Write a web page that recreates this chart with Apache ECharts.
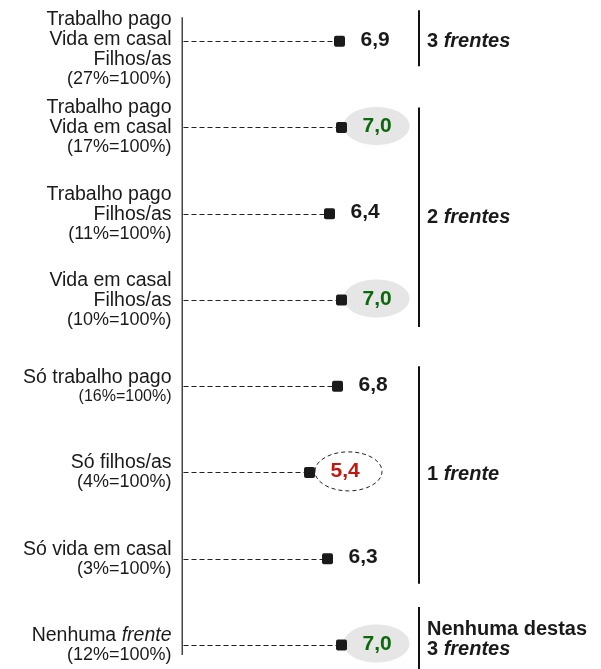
<!DOCTYPE html>
<html><head><meta charset="utf-8">
<script src="https://cdn.jsdelivr.net/npm/echarts@6/dist/echarts.min.js"></script>
<style>html,body{margin:0;padding:0;background:#fff}#c{width:601px;height:669px}</style>
</head><body><div id="c"></div>
<script>
// ---- data ----
const categories = [
  'Trabalho pago\nVida em casal\nFilhos/as',
  'Trabalho pago\nVida em casal',
  'Trabalho pago\nFilhos/as',
  'Vida em casal\nFilhos/as',
  'Só trabalho pago',
  'Só filhos/as',
  'Só vida em casal',
  'Nenhuma frente'
];
const shares = ['27%', '17%', '11%', '10%', '16%', '4%', '3%', '12%'];
const values = [6.9, 7.0, 6.4, 7.0, 6.8, 5.4, 6.3, 7.0];
const highlight = ['', 'high', '', 'high', '', 'low', '', 'high'];
const groupLabels = ['3 {i|frentes}', '2 {i|frentes}', '1 {i|frente}', 'Nenhuma destas\n3 {i|frentes}'];
const groupRanges = [[0, 0], [1, 3], [4, 6], [7, 7]];

// ---- layout / style ----
const FONT = '"Liberation Sans", Arial, Helvetica, sans-serif';
const groupPads = [[31, 25], [20, 27], [20, 25], [38, 30]];
const groupTextShift = [3, 0, 0, 2];
const smallShareRows = [4];
const TXT = '#1a1a1a';

const chart = echarts.init(document.getElementById('c'), null, {renderer: 'canvas'});

function fmt(v) { return v.toFixed(1).replace('.', ','); }

chart.setOption({
  animation: false,
  backgroundColor: '#fff',
  grid: {left: 181.5, top: -2, width: 220, height: 690, containLabel: false, outerBoundsMode: 'none'},
  xAxis: {type: 'value', min: -1, max: 10, show: false},
  yAxis: {
    type: 'category', inverse: true,
    data: categories.map((c, i) => i === 0 ? {value: c, textStyle: {padding: [16, 0, 0, 0]}} : c),
    axisLine: {show: false}, axisTick: {show: false}, splitLine: {show: false},
    axisLabel: {
      margin: 10, fontSize: 19.5, lineHeight: 20, color: TXT, fontFamily: FONT,
      formatter: (val, idx) => val.replace(/\bfrente\b/, '{i|frente}') +
        '\n{' + (smallShareRows.indexOf(idx) >= 0 ? 'ps' : 'p') + '|(' + shares[idx] + '=100%)}',
      rich: {
        i: {fontStyle: 'italic', fontSize: 19.5, lineHeight: 20, color: TXT, fontFamily: FONT},
        p: {fontSize: 18, lineHeight: 19, color: TXT, fontFamily: FONT},
        ps: {fontSize: 16, lineHeight: 17, color: TXT, fontFamily: FONT}
      }
    }
  },
  series: [{
    type: 'custom',
    coordinateSystem: 'cartesian2d',
    encode: {x: 0, y: 1},
    data: values.map((v, i) => [v, i]),
    clip: false,
    renderItem: (params, api) => {
      const v = api.value(0), i = api.value(1);
      const p0 = api.coord([-1, i]);
      const p = api.coord([v, i]);
      const h = highlight[i];
      const y = Math.round(p[1]) + 0.5;
      const children = [];
      children.push({type: 'line', shape: {x1: p0[0] + 2, y1: y, x2: p[0] - 5, y2: y},
        style: {stroke: '#222', lineWidth: 1.1, lineDash: [5, 3]}});
      if (h === 'high') {
        children.push({type: 'ellipse', shape: {cx: p[0] + 35, cy: p[1] - 1.5, rx: 33, ry: 19},
          style: {fill: '#e5e6e5'}});
      } else if (h === 'low') {
        children.push({type: 'ellipse', shape: {cx: p[0] + 39, cy: p[1] - 1, rx: 33.5, ry: 19.5},
          style: {fill: '#fff', stroke: '#222', lineWidth: 1, lineDash: [4, 3]}});
      }
      children.push({type: 'rect', shape: {x: p[0] - 5.5, y: p[1] - 5.5, width: 11, height: 11, r: 2},
        style: {fill: '#1a1a1a'}});
      const col = h === 'high' ? '#0b680b' : (h === 'low' ? '#c0170f' : TXT);
      children.push({type: 'text', x: p[0] + 21, y: p[1] - 1,
        style: {text: fmt(v), fill: col, font: 'bold 21px ' + FONT, align: 'left', verticalAlign: 'middle'}});
      return {type: 'group', children: children};
    }
  }]
});

const rows = values.map((v, i) => chart.convertToPixel({gridIndex: 0}, [-1, i]));
const ax = Math.round(rows[0][0]) + 0.25;
const graphics = [{
  type: 'line', silent: true,
  shape: {x1: ax, y1: rows[0][1] - 24, x2: ax, y2: rows[rows.length - 1][1] + 10},
  style: {stroke: '#444', lineWidth: 1.5}
}];
groupRanges.forEach((r, g) => {
  const y1 = rows[r[0]][1] - groupPads[g][0];
  const y2 = rows[r[1]][1] + groupPads[g][1];
  graphics.push({type: 'line', silent: true, shape: {x1: 419, y1: y1, x2: 419, y2: y2},
    style: {stroke: '#111', lineWidth: 2}});
  graphics.push({type: 'text', silent: true, x: 427, y: (y1 + Math.min(y2, 669)) / 2 + groupTextShift[g],
    style: {text: groupLabels[g], fill: TXT, font: 'bold 20px ' + FONT, lineHeight: 20,
      align: 'left', verticalAlign: 'middle',
      rich: {i: {fontStyle: 'italic', fontWeight: 'bold', fontSize: 20, fontFamily: FONT, fill: TXT, lineHeight: 20}}}});
});
chart.setOption({graphic: graphics});
</script>
</body></html>
